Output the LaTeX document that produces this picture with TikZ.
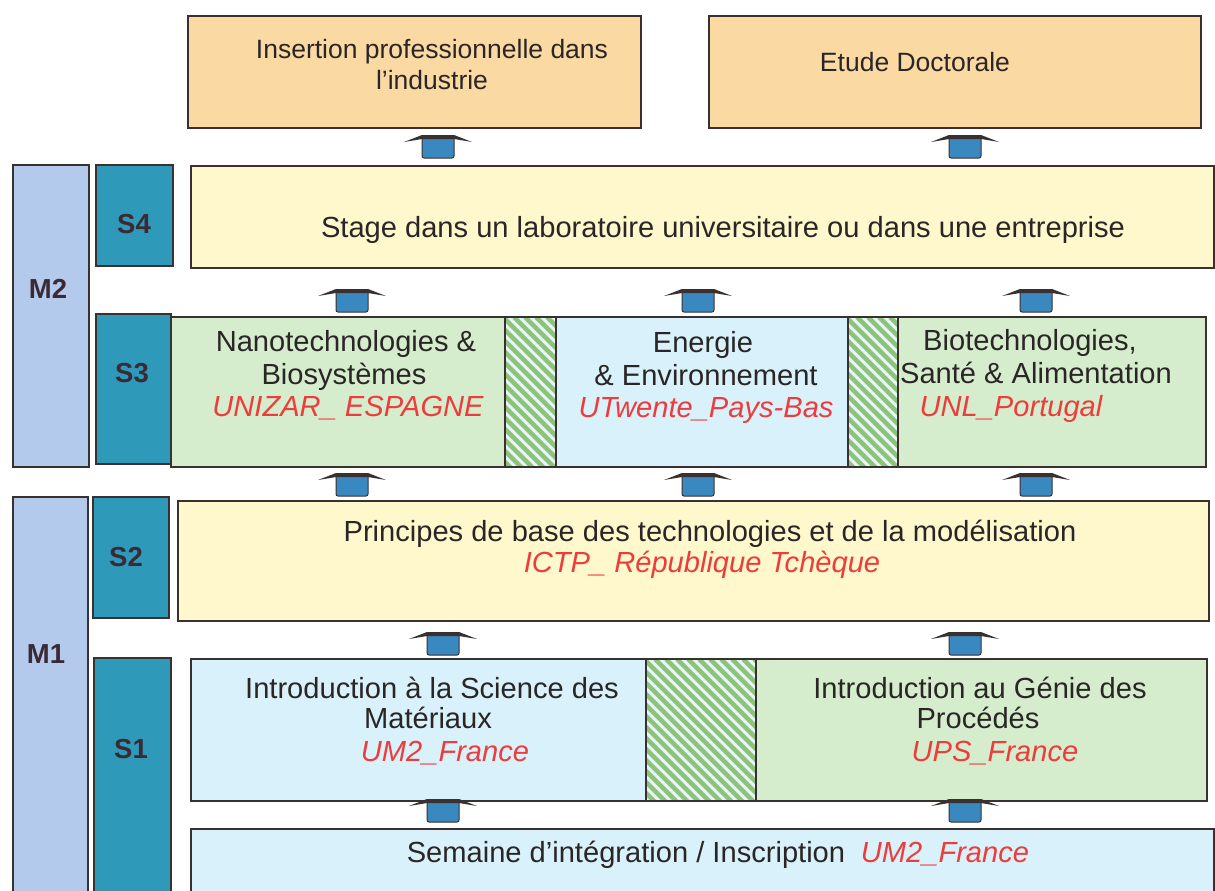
\documentclass[tikz,border=0pt]{standalone}
\usepackage{fontspec}
\setmainfont{Liberation Sans}
\definecolor{bordercol}{HTML}{3A3030}
\definecolor{mcol}{HTML}{B4CAEC}
\definecolor{scol}{HTML}{2F99B9}
\definecolor{orangecol}{HTML}{FAD9A3}
\definecolor{yellowcol}{HTML}{FEF8CC}
\definecolor{greencol}{HTML}{D5EDCD}
\definecolor{bluecol}{HTML}{D8F1FA}
\definecolor{stripebg}{HTML}{E6F5F5}
\definecolor{stripecol}{HTML}{8CC27A}
\definecolor{arrowblue}{HTML}{3A88C0}
\definecolor{unicol}{HTML}{EE3B3B}
\definecolor{textcol}{HTML}{2A2626}
\definecolor{labcol}{HTML}{3A2A35}
\tikzset{
  frame/.style={draw=bordercol, line width=2.2pt, inner sep=0pt, anchor=north west, rectangle},
  side/.style={draw=bordercol, line width=1.5pt, inner sep=0pt, anchor=north west, rectangle},
  striped/.style={frame, fill=stripebg, path picture={
      \foreach \k in {0,...,40}{
        \draw[stripecol, line width=4.5pt]
          ([xshift={(\k*11-200)*1pt}]path picture bounding box.north west) -- ++(300,300);
      }}},
  lab/.style={font=\fontsize{27.5}{30}\selectfont\bfseries, text=labcol, anchor=base, inner sep=0pt},
  txt/.style={font=\fontsize{29.1}{33}\selectfont, text=textcol, anchor=base, inner sep=0pt},
  toptxt/.style={font=\fontsize{26.5}{30}\selectfont, text=textcol, anchor=base, inner sep=0pt},
  uni/.style={font=\fontsize{29.1}{33}\selectfont\itshape, text=unicol, anchor=base, inner sep=0pt},
  uparrow/.pic={
    \draw[bordercol, line width=1pt, fill=arrowblue, rounded corners=2pt] (-16,1) -- (-16,22) -- (16,22) -- (16,1) -- cycle;
    \fill[bordercol] (-34,6) -- (-16,-1) -- (16,-1) -- (34,6) -- (16,3) -- (-16,3) -- cycle;
  }
}
\begin{document}
\begin{tikzpicture}[x=1pt,y=-1pt]
\useasboundingbox[fill=white] (0,0) rectangle (1215,891);

% side labels
\node[side, fill=mcol, minimum width=76pt, minimum height=302pt] (m2) at (12,164) {};
\node[side, fill=scol, minimum width=77pt, minimum height=101pt] (s4) at (95,164) {};
\node[side, fill=scol, minimum width=75pt, minimum height=150pt] (s3) at (95,313) {};
\node[side, fill=mcol, minimum width=75pt, minimum height=404pt] (m1) at (12,496) {};
\node[side, fill=scol, minimum width=76pt, minimum height=121pt] (s2) at (92,496) {};
\node[side, fill=scol, minimum width=77pt, minimum height=243pt] (s1) at (93,657) {};
\node[lab] (m2t) at (48,298) {M2};
\node[lab] (s4t) at (134,233) {S4};
\node[lab] (s3t) at (132,382) {S3};
\node[lab] (m1t) at (46,663) {M1};
\node[lab] (s2t) at (126,566) {S2};
\node[lab] (s1t) at (131,758) {S1};

% main boxes
\node[frame, fill=orangecol, minimum width=453pt, minimum height=112pt] (ins) at (187,15) {};
\node[frame, fill=orangecol, minimum width=492pt, minimum height=112pt] (doc) at (708,15) {};
\node[frame, fill=yellowcol, minimum width=1023pt, minimum height=102pt] (stage) at (190,165) {};
\node[frame, fill=greencol, minimum width=334pt, minimum height=150pt] (nano) at (170,316) {};
\node[striped, minimum width=51pt, minimum height=150pt] (st1) at (504,316) {};
\node[frame, fill=bluecol, minimum width=292pt, minimum height=150pt] (ener) at (555,316) {};
\node[striped, minimum width=50pt, minimum height=150pt] (st2) at (847,316) {};
\node[frame, fill=greencol, minimum width=308pt, minimum height=150pt] (bio) at (897,316) {};
\node[frame, fill=yellowcol, minimum width=1031pt, minimum height=120pt] (princ) at (177,500) {};
\node[frame, fill=bluecol, minimum width=455pt, minimum height=142pt] (mat) at (190,658) {};
\node[striped, minimum width=110pt, minimum height=142pt] (st3) at (645,658) {};
\node[frame, fill=greencol, minimum width=451pt, minimum height=142pt] (gen) at (755,658) {};
\node[frame, fill=bluecol, minimum width=1023pt, minimum height=80pt] (sem) at (190,828) {};

% texts
\node[toptxt] (ins1) at (432,59) {Insertion professionnelle dans};
\node[toptxt] (ins2) at (432,89) {l'industrie};
\node[toptxt] (doc1) at (915,71) {Etude Doctorale};
\node[txt] (stage1) at (723,237) {Stage dans un laboratoire universitaire ou dans une entreprise};
\node[txt] (nano1) at (346,351) {Nanotechnologies \&};
\node[txt] (nano2) at (344,384) {Biosystèmes};
\node[uni] (nano3) at (348,416) {UNIZAR\_ ESPAGNE};
\node[txt] (ener1) at (703,352) {Energie};
\node[txt] (ener2) at (706,385) {\& Environnement};
\node[uni] (ener3) at (706,417) {UTwente\_Pays-Bas};
\node[txt] (bio1) at (1030,350) {Biotechnologies,};
\node[txt] (bio2) at (1036,383) {Santé \& Alimentation};
\node[uni] (bio3) at (1011,416) {UNL\_Portugal};
\node[txt] (princ1) at (710,541) {Principes de base des technologies et de la modélisation};
\node[uni] (princ2) at (702,572) {ICTP\_ République Tchèque};
\node[txt] (mat1) at (432,698) {Introduction à la Science des};
\node[txt] (mat2) at (428,728) {Matériaux};
\node[uni] (mat3) at (445,761) {UM2\_France};
\node[txt] (gen1) at (980,698) {Introduction au Génie des};
\node[txt] (gen2) at (978,728) {Procédés};
\node[uni] (gen3) at (995,761) {UPS\_France};
\node[txt] (sem1) at (626,862) {Semaine d'intégration / Inscription};
\node[uni] (sem2) at (945,862) {UM2\_France};

% arrows
\pic at (438,136) {uparrow};
\pic at (965,136) {uparrow};
\pic at (352,290) {uparrow};
\pic at (698,290) {uparrow};
\pic at (1036,290) {uparrow};
\pic at (352,474) {uparrow};
\pic at (698,474) {uparrow};
\pic at (1036,474) {uparrow};
\pic at (443,633) {uparrow};
\pic at (965,633) {uparrow};
\pic at (443,800) {uparrow};
\pic at (965,800) {uparrow};
\end{tikzpicture}
\end{document}
